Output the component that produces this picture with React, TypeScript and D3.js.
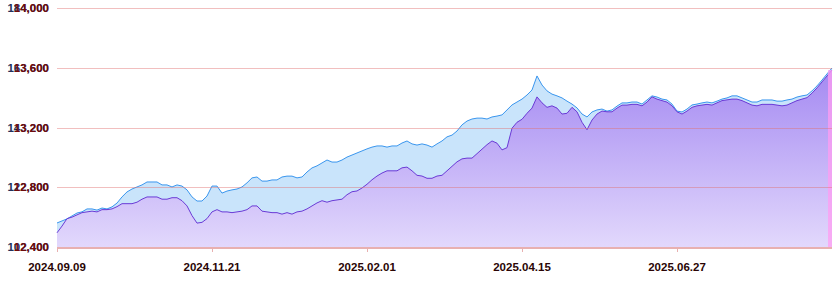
import React from "react";
import * as d3 from "d3";

const xTickLabels = ["2024.09.09", "2024.11.21", "2025.02.01", "2025.04.15", "2025.06.27"];
const xTickIndex = [0, 31, 62, 93, 124];

const leftTicksA = [102400, 122800, 143200, 163600, 184000];
const leftTicksB = [12400, 12800, 13200, 13600, 14000];

const blueSeries = [
  110600, 111300, 112000, 113000, 114000, 114400, 115400, 115400, 115000, 115700,
  115400, 116100, 117400, 119500, 121200, 122200, 122900, 123600, 124600, 124600,
  124600, 123600, 123600, 122900, 123600, 123200, 121900, 119500, 118100, 118100,
  119800, 123200, 123200, 120800, 121500, 121900, 122200, 122900, 124300, 126000,
  126300, 124900, 124900, 125300, 125300, 126300, 126600, 126600, 126000, 126300,
  128000, 129400, 130100, 131100, 132100, 131400, 131400, 132100, 133100, 133800,
  134500, 135200, 135900, 136500, 136900, 136900, 136500, 136900, 136900, 137900,
  138600, 137600, 137200, 137600, 137200, 136500, 137600, 138600, 140000, 140600,
  142000, 144100, 145400, 146100, 146400, 146400, 146100, 146800, 147100, 147500,
  149200, 150900, 151900, 152900, 154300, 156000, 160800, 157700, 155700, 154600,
  154000, 153300, 152200, 151200, 149900, 147800, 146800, 148500, 149200, 149500,
  148800, 149200, 150500, 151600, 151600, 151900, 151900, 151200, 152600, 154000,
  153600, 152900, 152600, 151200, 148800, 148500, 149500, 150900, 151200, 151600,
  151900, 151600, 152200, 152900, 153300, 154000, 154000, 153300, 152600, 151900,
  151900, 152600, 152600, 152600, 152200, 152200, 152600, 152900, 153600, 154000,
  154300, 155700, 157400, 159400, 161500, 163500,
];

const purpleSeries = [
  12495, 12540, 12590, 12600, 12615, 12630, 12635, 12640, 12635, 12650,
  12650, 12655, 12670, 12690, 12690, 12690, 12700, 12720, 12735, 12735,
  12735, 12720, 12720, 12730, 12730, 12710, 12675, 12610, 12560, 12565,
  12590, 12635, 12650, 12635, 12635, 12630, 12635, 12640, 12650, 12675,
  12675, 12640, 12635, 12630, 12630, 12620, 12630, 12620, 12635, 12640,
  12655, 12675, 12695, 12710, 12700, 12710, 12715, 12720, 12750, 12770,
  12775, 12795, 12820, 12850, 12875, 12895, 12910, 12910, 12910, 12930,
  12935, 12910, 12880, 12875, 12860, 12860, 12875, 12880, 12910, 12940,
  12970, 12990, 12995, 12995, 13025, 13055, 13085, 13110, 13095, 13050,
  13065, 13195, 13235, 13255, 13295, 13330, 13405, 13365, 13335, 13345,
  13330, 13290, 13295, 13335, 13305, 13235, 13185, 13250, 13290, 13310,
  13305, 13305, 13330, 13350, 13350, 13355, 13355, 13345, 13370, 13405,
  13390, 13380, 13370, 13345, 13305, 13290, 13310, 13335, 13345, 13350,
  13355, 13350, 13365, 13380, 13385, 13390, 13390, 13380, 13365, 13350,
  13345, 13355, 13355, 13355, 13350, 13345, 13350, 13365, 13380, 13390,
  13400, 13430, 13465, 13505, 13545, 13585,
];

const W = 840;
const H = 282;
const left = 57;
const right = 832;
const top = 8;
const bottom = 247;

export default function App() {
  const n = blueSeries.length;
  const x = d3.scaleLinear().domain([0, n - 1]).range([left, right]);
  const yA = d3.scaleLinear().domain([leftTicksA[0], leftTicksA[leftTicksA.length - 1]]).range([bottom, top]);
  const yB = d3.scaleLinear().domain([leftTicksB[0], leftTicksB[leftTicksB.length - 1]]).range([bottom, top]);

  const blueLine = d3.line<number>().x((_, i) => x(i)).y((d) => yA(d))(blueSeries) || "";
  const blueArea = d3.area<number>().x((_, i) => x(i)).y0(bottom).y1((d) => yA(d))(blueSeries) || "";
  const purpleLine = d3.line<number>().x((_, i) => x(i)).y((d) => yB(d))(purpleSeries) || "";
  const purpleArea = d3.area<number>().x((_, i) => x(i)).y0(bottom).y1((d) => yB(d))(purpleSeries) || "";

  const lastY = yB(purpleSeries[n - 1]);
  const fmt = d3.format(",");

  return (
    <svg width={W} height={H} style={{ position: "absolute", left: 0, top: 0, fontFamily: "Arial, 'Liberation Sans', sans-serif" }}>
      <defs>
        <linearGradient id="pg" x1="0" y1={top} x2="0" y2={bottom} gradientUnits="userSpaceOnUse">
          <stop offset="0" stopColor="#8f6eee" />
          <stop offset="1" stopColor="#e2d8fc" />
        </linearGradient>
      </defs>
      <rect x={0} y={0} width={W} height={H} fill="#fff" />
      <path d={blueArea} fill="#c9e4fb" />
      <path d={purpleArea} fill="url(#pg)" />
      <path d={blueLine} fill="none" stroke="#3a96ee" strokeWidth={1} />
      <path d={purpleLine} fill="none" stroke="#6a3ad6" strokeWidth={1} />
      <rect x={right - 4} y={lastY} width={4} height={bottom - lastY} fill="#ff9cf2" opacity={0.75} />
      {leftTicksA.map((t) => (
        <line key={"g" + t} x1={left} x2={right} y1={Math.round(yA(t)) + 0.5} y2={Math.round(yA(t)) + 0.5} stroke="#e07070" strokeOpacity={0.45} />
      ))}
      <line x1={left} x2={right} y1={bottom + 1} y2={bottom + 1} stroke="#e8b0b0" strokeWidth={2} />
      {xTickIndex.map((i) => (
        <line key={"t" + i} x1={Math.round(x(i)) + 0.5} x2={Math.round(x(i)) + 0.5} y1={bottom + 1} y2={bottom + 5} stroke="#e8b0b0" />
      ))}
      {leftTicksA.map((t) => (
        <text key={"a" + t} x={49} y={yA(t)} dy="0.36em" textAnchor="end" fontSize={11.5} fontWeight="bold" fill="#24305a">
          {fmt(t)}
        </text>
      ))}
      {leftTicksB.map((t) => (
        <text key={"b" + t} x={49} y={yB(t)} dy="0.36em" textAnchor="end" fontSize={11.5} fontWeight="bold" fill="#6e0c0c">
          {fmt(t)}
        </text>
      ))}
      {xTickIndex.map((i, k) => (
        <text key={"x" + i} x={x(i)} y={271} textAnchor="middle" fontSize={11.5} fontWeight="bold" fill="#2a0505">
          {xTickLabels[k]}
        </text>
      ))}
    </svg>
  );
}
